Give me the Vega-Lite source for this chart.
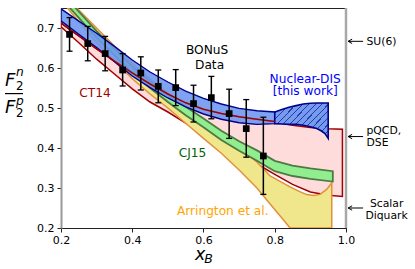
{
  "$schema": "https://vega.github.io/schema/vega-lite/v6.json",
  "width": 285,
  "height": 220,
  "autosize": {"type": "none"},
  "padding": {"left": 61, "top": 8, "right": 69, "bottom": 41},
  "background": "white",
  "config": {
    "font": "DejaVu Sans",
    "view": {"stroke": "#222", "strokeWidth": 1},
    "axis": {"grid": false, "labelFont": "DejaVu Sans", "labelFontSize": 11, "labelColor": "#000", "tickColor": "#222", "tickSize": 4, "tickWidth": 1},
    "axisX": {"domainColor": "#222", "domainWidth": 1, "labelPadding": 2, "labelFlush": false},
    "axisY": {"domainColor": "#999", "domainWidth": 2, "labelPadding": 3}
  },
  "datasets": {
    "ct14": [
      {"x": 0.2, "lo": 0.703, "hi": 0.7125},
      {"x": 0.25, "lo": 0.663, "hi": 0.68},
      {"x": 0.3, "lo": 0.622, "hi": 0.648},
      {"x": 0.35, "lo": 0.585, "hi": 0.617},
      {"x": 0.4, "lo": 0.548, "hi": 0.588},
      {"x": 0.45, "lo": 0.515, "hi": 0.56},
      {"x": 0.5, "lo": 0.49, "hi": 0.535},
      {"x": 0.55, "lo": 0.462, "hi": 0.513},
      {"x": 0.6, "lo": 0.44, "hi": 0.497},
      {"x": 0.65, "lo": 0.417, "hi": 0.486},
      {"x": 0.7, "lo": 0.39, "hi": 0.478},
      {"x": 0.75, "lo": 0.36, "hi": 0.472},
      {"x": 0.8, "lo": 0.334, "hi": 0.466},
      {"x": 0.85, "lo": 0.309, "hi": 0.457},
      {"x": 0.9, "lo": 0.29, "hi": 0.451},
      {"x": 0.95, "lo": 0.282, "hi": 0.448},
      {"x": 0.99, "lo": 0.279, "hi": 0.447}
    ],
    "arrington": [
      {"x": 0.2, "lo": 0.77, "hi": 0.8},
      {"x": 0.25, "lo": 0.715, "hi": 0.745},
      {"x": 0.3, "lo": 0.664, "hi": 0.7},
      {"x": 0.35, "lo": 0.617, "hi": 0.655},
      {"x": 0.4, "lo": 0.573, "hi": 0.612},
      {"x": 0.45, "lo": 0.535, "hi": 0.573},
      {"x": 0.5, "lo": 0.5, "hi": 0.537},
      {"x": 0.55, "lo": 0.462, "hi": 0.503},
      {"x": 0.6, "lo": 0.424, "hi": 0.468},
      {"x": 0.65, "lo": 0.387, "hi": 0.435},
      {"x": 0.7, "lo": 0.345, "hi": 0.401},
      {"x": 0.75, "lo": 0.3, "hi": 0.365},
      {"x": 0.787, "lo": 0.26, "hi": 0.33},
      {"x": 0.82, "lo": 0.225, "hi": 0.314},
      {"x": 0.843, "lo": 0.2, "hi": 0.303},
      {"x": 0.87, "lo": 0.2, "hi": 0.291},
      {"x": 0.89, "lo": 0.2, "hi": 0.2835},
      {"x": 0.91, "lo": 0.2, "hi": 0.281},
      {"x": 0.927, "lo": 0.2, "hi": 0.284},
      {"x": 0.945, "lo": 0.2, "hi": 0.296},
      {"x": 0.955, "lo": 0.2, "hi": 0.307},
      {"x": 0.96, "lo": 0.2, "hi": 0.313}
    ],
    "cj15": [
      {"x": 0.2, "lo": 0.775, "hi": 0.79},
      {"x": 0.3, "lo": 0.676, "hi": 0.692},
      {"x": 0.4, "lo": 0.588, "hi": 0.604},
      {"x": 0.45, "lo": 0.55, "hi": 0.567},
      {"x": 0.5, "lo": 0.515, "hi": 0.534},
      {"x": 0.55, "lo": 0.482, "hi": 0.503},
      {"x": 0.6, "lo": 0.452, "hi": 0.474},
      {"x": 0.65, "lo": 0.42, "hi": 0.443},
      {"x": 0.7, "lo": 0.393, "hi": 0.417},
      {"x": 0.75, "lo": 0.368, "hi": 0.394},
      {"x": 0.8, "lo": 0.342, "hi": 0.368},
      {"x": 0.85, "lo": 0.33, "hi": 0.356},
      {"x": 0.9, "lo": 0.323, "hi": 0.349},
      {"x": 0.963, "lo": 0.316, "hi": 0.342}
    ],
    "nucdis": [
      {"x": 0.2, "lo": 0.718, "hi": 0.748},
      {"x": 0.25, "lo": 0.684, "hi": 0.717},
      {"x": 0.3, "lo": 0.651, "hi": 0.687},
      {"x": 0.35, "lo": 0.616, "hi": 0.654},
      {"x": 0.4, "lo": 0.58, "hi": 0.62},
      {"x": 0.45, "lo": 0.551, "hi": 0.59},
      {"x": 0.5, "lo": 0.525, "hi": 0.565},
      {"x": 0.55, "lo": 0.503, "hi": 0.542},
      {"x": 0.6, "lo": 0.485, "hi": 0.524},
      {"x": 0.65, "lo": 0.472, "hi": 0.51},
      {"x": 0.7, "lo": 0.463, "hi": 0.499},
      {"x": 0.75, "lo": 0.459, "hi": 0.493},
      {"x": 0.8, "lo": 0.461, "hi": 0.49}
    ],
    "nucdis_ext": [
      {"x": 0.8, "lo": 0.461, "hi": 0.49},
      {"x": 0.82, "lo": 0.46, "hi": 0.496},
      {"x": 0.84, "lo": 0.459, "hi": 0.502},
      {"x": 0.86, "lo": 0.459, "hi": 0.506},
      {"x": 0.88, "lo": 0.457, "hi": 0.51},
      {"x": 0.9, "lo": 0.453, "hi": 0.512},
      {"x": 0.918, "lo": 0.4485, "hi": 0.5125},
      {"x": 0.93, "lo": 0.443, "hi": 0.5125},
      {"x": 0.941, "lo": 0.436, "hi": 0.5125},
      {"x": 0.95, "lo": 0.424, "hi": 0.5125}
    ],
    "bonus": [
      {"x": 0.224, "y": 0.684, "lo": 0.642, "hi": 0.726},
      {"x": 0.275, "y": 0.661, "lo": 0.618, "hi": 0.704},
      {"x": 0.324, "y": 0.636, "lo": 0.593, "hi": 0.679},
      {"x": 0.373, "y": 0.595, "lo": 0.555, "hi": 0.636},
      {"x": 0.424, "y": 0.5875, "lo": 0.545, "hi": 0.628},
      {"x": 0.473, "y": 0.554, "lo": 0.513, "hi": 0.595},
      {"x": 0.522, "y": 0.551, "lo": 0.506, "hi": 0.596},
      {"x": 0.572, "y": 0.511, "lo": 0.465, "hi": 0.557},
      {"x": 0.622, "y": 0.526, "lo": 0.473, "hi": 0.579},
      {"x": 0.672, "y": 0.486, "lo": 0.424, "hi": 0.547},
      {"x": 0.72, "y": 0.4485, "lo": 0.377, "hi": 0.521},
      {"x": 0.768, "y": 0.38, "lo": 0.284, "hi": 0.477}
    ],
    "labels": [
      {"text": "BONuS", "x": 0.61, "y": 0.635, "series": "data"},
      {"text": "Data", "x": 0.617, "y": 0.598, "series": "data"},
      {"text": "Nuclear-DIS", "x": 0.8855, "y": 0.5635, "series": "nuc"},
      {"text": "[this work]", "x": 0.8855, "y": 0.5315, "series": "nuc"},
      {"text": "CT14", "x": 0.2954, "y": 0.5275, "series": "ct14"},
      {"text": "CJ15", "x": 0.569, "y": 0.3775, "series": "cj15"},
      {"text": "Arrington et al.", "x": 0.654, "y": 0.232, "series": "arr"}
    ],
    "limits_left": [
      {"text": "SU(6)", "x": 1.0576, "y": 0.6568},
      {"text": "pQCD,", "x": 1.0576, "y": 0.4345},
      {"text": "DSE", "x": 1.0576, "y": 0.4055}
    ],
    "limits_center": [
      {"text": "Scalar", "x": 1.114, "y": 0.253},
      {"text": "Diquark", "x": 1.114, "y": 0.223}
    ],
    "arrows": [
      {"x": 1.006, "x2": 1.048, "y": 0.6667},
      {"x": 1.006, "x2": 1.048, "y": 0.4286},
      {"x": 1.006, "x2": 1.048, "y": 0.25}
    ],
    "ytitle_big": [
      {"text": "F", "x": 0.0428, "y": 0.554},
      {"text": "F", "x": 0.0428, "y": 0.487}
    ],
    "ytitle_letters": [
      {"text": "n", "x": 0.0737, "y": 0.579},
      {"text": "p", "x": 0.0737, "y": 0.5085}
    ],
    "ytitle_digits": [
      {"text": "2", "x": 0.0737, "y": 0.5455},
      {"text": "2", "x": 0.0737, "y": 0.477}
    ],
    "fracbar": [
      {"x": 0.0428, "x2": 0.0933, "y": 0.536}
    ],
    "xtitle_big": [
      {"text": "x", "x": 0.576, "y": 0.1205}
    ],
    "xtitle_sub": [
      {"text": "B", "x": 0.602, "y": 0.1135}
    ]
  },
  "encoding": {
    "x": {
      "field": "x",
      "type": "quantitative",
      "scale": {"domain": [0.2, 1.0], "nice": false, "zero": false},
      "axis": {"values": [0.2, 0.4, 0.6, 0.8, 1.0], "format": ".1f", "title": null},
      "title": null
    }
  },
  "layer": [
    {
      "data": {"name": "ct14"},
      "mark": {"type": "area", "fill": "#ffdcdc", "stroke": "#a00000", "strokeWidth": 1.5, "clip": true},
      "encoding": {
        "y": {"field": "lo", "type": "quantitative", "scale": {"domain": [0.2, 0.75], "nice": false, "zero": false}, "axis": {"values": [0.2, 0.3, 0.4, 0.5, 0.6, 0.7], "format": ".1f", "title": null}, "title": null},
        "y2": {"field": "hi"}
      }
    },
    {
      "data": {"name": "arrington"},
      "mark": {"type": "area", "fill": "#f0e68c", "stroke": "#e0913a", "strokeWidth": 1.5, "clip": true},
      "encoding": {
        "y": {"field": "lo", "type": "quantitative", "scale": {"domain": [0.2, 0.75], "nice": false, "zero": false}, "title": null},
        "y2": {"field": "hi"}
      }
    },
    {
      "data": {"name": "cj15"},
      "mark": {"type": "area", "fill": "#90ee90", "stroke": "#4e7a40", "strokeWidth": 1.8, "clip": true},
      "encoding": {
        "y": {"field": "lo", "type": "quantitative", "scale": {"domain": [0.2, 0.75], "nice": false, "zero": false}, "title": null},
        "y2": {"field": "hi"}
      }
    },
    {
      "data": {"name": "nucdis"},
      "mark": {"type": "area", "fill": "#6b96f0", "fillOpacity": 0.88, "stroke": "#00008b", "strokeWidth": 1.4, "clip": true},
      "encoding": {
        "y": {"field": "lo", "type": "quantitative", "scale": {"domain": [0.2, 0.75], "nice": false, "zero": false}, "title": null},
        "y2": {"field": "hi"}
      }
    },
    {
      "data": {"name": "nucdis_ext"},
      "mark": {
        "type": "area",
        "stroke": "#00008b",
        "strokeWidth": 1.6,
        "clip": true,
        "fill": {
          "gradient": "linear",
          "x1": 0, "y1": 0, "x2": 1.163, "y2": 0.744,
          "stops": [
            {"offset": 0, "color": "#759bee"},
            {"offset": 0.03, "color": "#759bee"}, {"offset": 0.03, "color": "#2a3aa8"}, {"offset": 0.043, "color": "#2a3aa8"}, {"offset": 0.043, "color": "#759bee"},
            {"offset": 0.1035, "color": "#759bee"}, {"offset": 0.1035, "color": "#2a3aa8"}, {"offset": 0.1165, "color": "#2a3aa8"}, {"offset": 0.1165, "color": "#759bee"},
            {"offset": 0.177, "color": "#759bee"}, {"offset": 0.177, "color": "#2a3aa8"}, {"offset": 0.19, "color": "#2a3aa8"}, {"offset": 0.19, "color": "#759bee"},
            {"offset": 0.2505, "color": "#759bee"}, {"offset": 0.2505, "color": "#2a3aa8"}, {"offset": 0.2635, "color": "#2a3aa8"}, {"offset": 0.2635, "color": "#759bee"},
            {"offset": 0.324, "color": "#759bee"}, {"offset": 0.324, "color": "#2a3aa8"}, {"offset": 0.337, "color": "#2a3aa8"}, {"offset": 0.337, "color": "#759bee"},
            {"offset": 0.3975, "color": "#759bee"}, {"offset": 0.3975, "color": "#2a3aa8"}, {"offset": 0.4105, "color": "#2a3aa8"}, {"offset": 0.4105, "color": "#759bee"},
            {"offset": 0.471, "color": "#759bee"}, {"offset": 0.471, "color": "#2a3aa8"}, {"offset": 0.484, "color": "#2a3aa8"}, {"offset": 0.484, "color": "#759bee"},
            {"offset": 0.5445, "color": "#759bee"}, {"offset": 0.5445, "color": "#2a3aa8"}, {"offset": 0.5575, "color": "#2a3aa8"}, {"offset": 0.5575, "color": "#759bee"},
            {"offset": 0.618, "color": "#759bee"}, {"offset": 0.618, "color": "#2a3aa8"}, {"offset": 0.631, "color": "#2a3aa8"}, {"offset": 0.631, "color": "#759bee"},
            {"offset": 0.6915, "color": "#759bee"}, {"offset": 0.6915, "color": "#2a3aa8"}, {"offset": 0.7045, "color": "#2a3aa8"}, {"offset": 0.7045, "color": "#759bee"},
            {"offset": 0.765, "color": "#759bee"}, {"offset": 0.765, "color": "#2a3aa8"}, {"offset": 0.778, "color": "#2a3aa8"}, {"offset": 0.778, "color": "#759bee"},
            {"offset": 0.8385, "color": "#759bee"}, {"offset": 0.8385, "color": "#2a3aa8"}, {"offset": 0.8515, "color": "#2a3aa8"}, {"offset": 0.8515, "color": "#759bee"},
            {"offset": 0.912, "color": "#759bee"}, {"offset": 0.912, "color": "#2a3aa8"}, {"offset": 0.925, "color": "#2a3aa8"}, {"offset": 0.925, "color": "#759bee"},
            {"offset": 1, "color": "#759bee"}
          ]
        }
      },
      "encoding": {
        "y": {"field": "lo", "type": "quantitative", "scale": {"domain": [0.2, 0.75], "nice": false, "zero": false}, "title": null},
        "y2": {"field": "hi"}
      }
    },
    {
      "data": {"name": "ct14"},
      "transform": [{"filter": "datum.x <= 0.8"}],
      "mark": {"type": "line", "stroke": "#a00000", "strokeWidth": 1.5, "clip": true},
      "encoding": {
        "y": {"field": "hi", "type": "quantitative", "scale": {"domain": [0.2, 0.75], "nice": false, "zero": false}, "title": null}
      }
    },
    {
      "data": {"values": [{"x": 1.0, "lo": 0.2, "hi": 0.75}]},
      "mark": {"type": "rule", "stroke": "#a8a8a8", "strokeWidth": 2.5},
      "encoding": {
        "y": {"field": "lo", "type": "quantitative", "scale": {"domain": [0.2, 0.75], "nice": false, "zero": false}, "title": null},
        "y2": {"field": "hi"}
      }
    },
    {
      "data": {"name": "bonus"},
      "mark": {"type": "rule", "stroke": "#000", "strokeWidth": 1.5},
      "encoding": {
        "y": {"field": "lo", "type": "quantitative", "scale": {"domain": [0.2, 0.75], "nice": false, "zero": false}, "title": null},
        "y2": {"field": "hi"}
      }
    },
    {
      "data": {"name": "bonus"},
      "mark": {"type": "tick", "orient": "horizontal", "color": "#000", "size": 6, "thickness": 1.3, "opacity": 1},
      "encoding": {
        "y": {"field": "lo", "type": "quantitative", "scale": {"domain": [0.2, 0.75], "nice": false, "zero": false}, "title": null}
      }
    },
    {
      "data": {"name": "bonus"},
      "mark": {"type": "tick", "orient": "horizontal", "color": "#000", "size": 6, "thickness": 1.3, "opacity": 1},
      "encoding": {
        "y": {"field": "hi", "type": "quantitative", "scale": {"domain": [0.2, 0.75], "nice": false, "zero": false}, "title": null}
      }
    },
    {
      "data": {"name": "bonus"},
      "mark": {"type": "point", "shape": "square", "filled": true, "color": "#000", "size": 45, "opacity": 1},
      "encoding": {
        "y": {"field": "y", "type": "quantitative", "scale": {"domain": [0.2, 0.75], "nice": false, "zero": false}, "title": null}
      }
    },
    {
      "data": {"name": "labels"},
      "mark": {"type": "text", "align": "center", "baseline": "alphabetic", "fontSize": 12.2, "font": "DejaVu Sans"},
      "encoding": {
        "y": {"field": "y", "type": "quantitative", "scale": {"domain": [0.2, 0.75], "nice": false, "zero": false}, "title": null},
        "text": {"field": "text"},
        "color": {"field": "series", "type": "nominal", "scale": {"domain": ["data", "nuc", "ct14", "cj15", "arr"], "range": ["#000000", "#0000ff", "#a00000", "#006400", "#ffa500"]}, "legend": null}
      }
    },
    {
      "data": {"name": "limits_left"},
      "mark": {"type": "text", "align": "left", "baseline": "alphabetic", "fontSize": 10.8, "font": "DejaVu Sans", "color": "#000"},
      "encoding": {
        "y": {"field": "y", "type": "quantitative", "scale": {"domain": [0.2, 0.75], "nice": false, "zero": false}, "title": null},
        "text": {"field": "text"}
      }
    },
    {
      "data": {"name": "limits_center"},
      "mark": {"type": "text", "align": "center", "baseline": "alphabetic", "fontSize": 10.8, "font": "DejaVu Sans", "color": "#000"},
      "encoding": {
        "y": {"field": "y", "type": "quantitative", "scale": {"domain": [0.2, 0.75], "nice": false, "zero": false}, "title": null},
        "text": {"field": "text"}
      }
    },
    {
      "data": {"name": "arrows"},
      "mark": {"type": "rule", "stroke": "#000", "strokeWidth": 1},
      "encoding": {
        "x2": {"field": "x2"},
        "y": {"field": "y", "type": "quantitative", "scale": {"domain": [0.2, 0.75], "nice": false, "zero": false}, "title": null}
      }
    },
    {
      "data": {"name": "arrows"},
      "mark": {"type": "point", "shape": "M0,0L1,-0.55M0,0L1,0.55", "filled": false, "stroke": "#000", "strokeWidth": 1, "size": 64, "opacity": 1},
      "encoding": {
        "y": {"field": "y", "type": "quantitative", "scale": {"domain": [0.2, 0.75], "nice": false, "zero": false}, "title": null}
      }
    },
    {
      "data": {"name": "ytitle_big"},
      "mark": {"type": "text", "align": "left", "baseline": "alphabetic", "fontSize": 18, "fontStyle": "italic", "font": "DejaVu Sans", "color": "#000"},
      "encoding": {
        "y": {"field": "y", "type": "quantitative", "scale": {"domain": [0.2, 0.75], "nice": false, "zero": false}, "title": null},
        "text": {"field": "text"}
      }
    },
    {
      "data": {"name": "ytitle_letters"},
      "mark": {"type": "text", "align": "left", "baseline": "alphabetic", "fontSize": 12.2, "fontStyle": "italic", "font": "DejaVu Sans", "color": "#000"},
      "encoding": {
        "y": {"field": "y", "type": "quantitative", "scale": {"domain": [0.2, 0.75], "nice": false, "zero": false}, "title": null},
        "text": {"field": "text"}
      }
    },
    {
      "data": {"name": "ytitle_digits"},
      "mark": {"type": "text", "align": "left", "baseline": "alphabetic", "fontSize": 11.8, "font": "DejaVu Sans", "color": "#000"},
      "encoding": {
        "y": {"field": "y", "type": "quantitative", "scale": {"domain": [0.2, 0.75], "nice": false, "zero": false}, "title": null},
        "text": {"field": "text"}
      }
    },
    {
      "data": {"name": "fracbar"},
      "mark": {"type": "rule", "stroke": "#000", "strokeWidth": 1.2},
      "encoding": {
        "x2": {"field": "x2"},
        "y": {"field": "y", "type": "quantitative", "scale": {"domain": [0.2, 0.75], "nice": false, "zero": false}, "title": null}
      }
    },
    {
      "data": {"name": "xtitle_big"},
      "mark": {"type": "text", "align": "left", "baseline": "alphabetic", "fontSize": 17.5, "fontStyle": "italic", "font": "DejaVu Sans", "color": "#000"},
      "encoding": {
        "y": {"field": "y", "type": "quantitative", "scale": {"domain": [0.2, 0.75], "nice": false, "zero": false}, "title": null},
        "text": {"field": "text"}
      }
    },
    {
      "data": {"name": "xtitle_sub"},
      "mark": {"type": "text", "align": "left", "baseline": "alphabetic", "fontSize": 12.5, "fontStyle": "italic", "font": "DejaVu Sans", "color": "#000"},
      "encoding": {
        "y": {"field": "y", "type": "quantitative", "scale": {"domain": [0.2, 0.75], "nice": false, "zero": false}, "title": null},
        "text": {"field": "text"}
      }
    }
  ]
}
